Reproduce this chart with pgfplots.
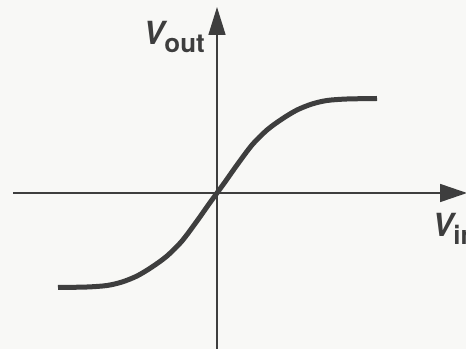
\documentclass[border=0pt]{standalone}
\usepackage{fontspec}
\setmainfont{TeX Gyre Heros}
\usepackage{pgfplots}
\pgfplotsset{compat=1.18}
\usetikzlibrary{arrows.meta}
\definecolor{ink}{RGB}{62,62,62}
\definecolor{paper}{RGB}{248,248,246}

\begin{document}
\begin{tikzpicture}
\begin{axis}[
  scale only axis,
  width=466bp, height=349bp,
  xmin=-217, xmax=249, ymin=-156, ymax=193,
  hide axis,
  clip=false,
]
% background
\fill[paper] (axis cs:-217,-156) rectangle (axis cs:249,193);
% axes with arrows
\draw[ink, line width=1.6bp, -{Triangle[length=28bp,width=17bp]}]
  (axis cs:0,-156) -- (axis cs:0,186);
\draw[ink, line width=1.6bp, -{Triangle[length=27bp,width=18bp]}]
  (axis cs:-204,0) -- (axis cs:250,0);
% transfer characteristic
\addplot[ink, line width=5bp, smooth, line cap=butt] coordinates {
(-159,-94.5)(-130,-94)(-110,-92.5)(-95,-89)(-80,-83)(-65,-74)(-50,-63)
(-35,-48)(-20,-28)(-8,-11)(0,0)(8,11)(20,28)(35,48)(50,63)(65,74)
(80,83)(95,89)(110,92.5)(130,94)(160,94.5)
};
% labels
\node[anchor=base west, inner sep=0pt, text=ink] at (axis cs:-74,148)
  {\fontsize{32}{32}\selectfont\bfseries\itshape V\raisebox{-8bp}{\fontsize{26}{26}\selectfont\upshape out}};
\node[anchor=base west, inner sep=0pt, text=ink] at (axis cs:215,-44)
  {\fontsize{32}{32}\selectfont\bfseries\itshape V\raisebox{-8bp}{\fontsize{26}{26}\selectfont\upshape in}};
\end{axis}
\pgfresetboundingbox
\useasboundingbox (current axis.south west) rectangle (current axis.north east);
\end{tikzpicture}
\end{document}
